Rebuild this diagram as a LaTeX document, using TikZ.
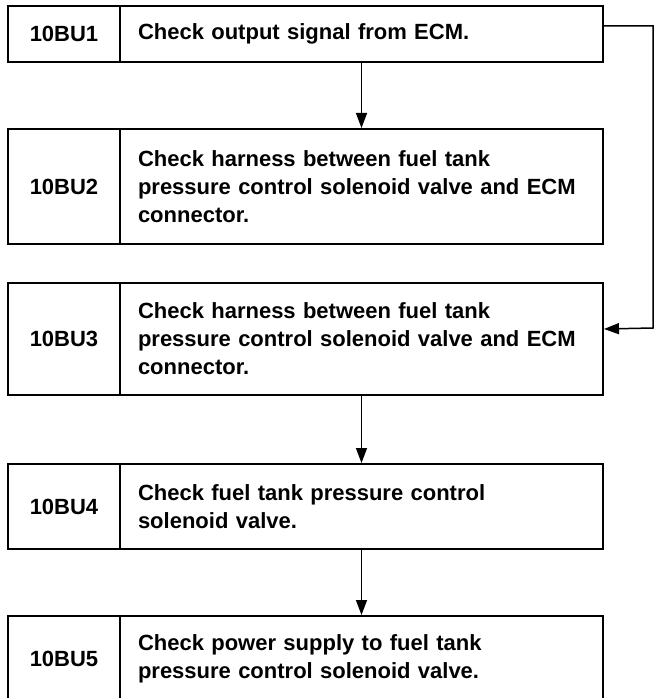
\documentclass[tikz,border=0pt]{standalone}
\usepackage{fontspec}
\setmainfont{Liberation Sans}
\usetikzlibrary{positioning, arrows.meta}

\begin{document}
\begin{tikzpicture}[x=1pt, y=-1pt,
        every node/.style={font=\bfseries\fontsize{22}{28}\selectfont},
        codebox/.style={draw, line width=2pt, minimum width=112pt, inner sep=0pt, anchor=north west},
        textbox/.style={draw, line width=2pt, minimum width=483pt, text width=447pt, inner xsep=18pt, inner ysep=0pt, align=left, anchor=north west},
        flow/.style={line width=1.5pt, -{Triangle[length=15pt, width=11pt]}}]
        \useasboundingbox (0,0) rectangle (655,698);
        \clip (0,0) rectangle (655,698);

        % Steps
        \foreach \n/\y/\h/\txt in {1/5/56/{Check output signal from ECM.},
                2/128/115/{Check harness between fuel tank\\pressure control solenoid valve and ECM\\connector.},
                3/282/112/{Check harness between fuel tank\\pressure control solenoid valve and ECM\\connector.},
                4/463/85/{Check fuel tank pressure control\\solenoid valve.},
                5/615/85/{Check power supply to fuel tank\\pressure control solenoid valve.}} {
            \node[codebox, minimum height=\h pt] (c\n) at (7,\y) {10BU\n};
            \node[textbox, minimum height=\h pt] (t\n) at (119,\y) {\txt};
        }

        % Flow
        \draw[flow] (t1.south) -- (t2.north);
        \draw[flow] (t3.south) -- (t4.north);
        \draw[flow] (t4.south) -- (t5.north);

        % Skip to 10BU3
        \coordinate (rim) at (653,328);
        \draw[flow] ([yshift=8pt]t1.east) -| (rim) -- ([yshift=10pt]t3.east);
    \end{tikzpicture}
\end{document}
